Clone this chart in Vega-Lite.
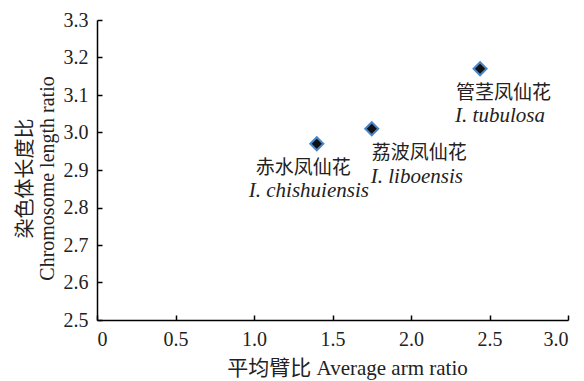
{
  "$schema": "https://vega.github.io/schema/vega-lite/v6.json",
  "width": 471,
  "height": 300,
  "autosize": {"type": "none"},
  "padding": {"left": 97, "top": 20, "right": 16, "bottom": 61},
  "background": "white",
  "config": {
    "view": {"stroke": null},
    "font": "Liberation Serif, Noto Sans CJK SC, serif"
  },
  "data": {
    "values": [
      {"species": "chishuiensis", "cn": "赤水凤仙花", "latin": "I. chishuiensis", "arm": 1.40, "len": 2.97},
      {"species": "liboensis", "cn": "荔波凤仙花", "latin": "I. liboensis", "arm": 1.75, "len": 3.01},
      {"species": "tubulosa", "cn": "管茎凤仙花", "latin": "I. tubulosa", "arm": 2.44, "len": 3.17}
    ]
  },
  "encoding": {
    "x": {
      "field": "arm", "type": "quantitative",
      "scale": {"domain": [0, 3], "nice": false, "zero": false},
      "axis": {
        "title": "平均臂比 Average arm ratio",
        "values": [0, 0.5, 1, 1.5, 2, 2.5, 3],
        "labelExpr": "datum.value === 0 ? '0' : format(datum.value, '.1f')",
        "grid": false,
        "domainColor": "#000", "domainWidth": 1.5,
        "tickColor": "#000", "tickWidth": 1.5, "tickSize": -5,
        "labelPadding": 14,
        "labelFont": "Liberation Serif, serif", "labelFontSize": 20, "labelColor": "#222",
        "titleFont": "Liberation Serif, Noto Sans CJK SC, serif", "titleFontSize": 21, "titleFontWeight": "normal", "titleColor": "#222",
        "titleX": 250,
        "titlePadding": 8
      }
    },
    "y": {
      "field": "len", "type": "quantitative",
      "scale": {"domain": [2.5, 3.3], "nice": false, "zero": false},
      "axis": {
        "title": ["染色体长度比", "Chromosome length ratio"],
        "values": [2.5, 2.6, 2.7, 2.8, 2.9, 3.0, 3.1, 3.2, 3.3],
        "format": ".1f",
        "grid": false,
        "domainColor": "#000", "domainWidth": 1.5,
        "tickColor": "#000", "tickWidth": 1.5, "tickSize": -5,
        "labelPadding": 14,
        "labelFont": "Liberation Serif, serif", "labelFontSize": 20, "labelColor": "#222",
        "titleFont": "Liberation Serif, Noto Sans CJK SC, serif", "titleFontSize": 20, "titleFontWeight": "normal", "titleColor": "#222",
        "titleLineHeight": 22,
        "titleY": 158,
        "titlePadding": 6
      }
    }
  },
  "layer": [
    {
      "mark": {"type": "point", "shape": "diamond", "size": 170, "filled": true, "fill": "#111", "stroke": "#4a86c8", "strokeWidth": 2, "opacity": 1}
    },
    {
      "transform": [{"filter": "datum.species === 'chishuiensis'"}],
      "layer": [
        {"mark": {"type": "text", "align": "left", "baseline": "middle", "dx": -61, "dy": 24, "fontSize": 19, "font": "Noto Sans CJK SC", "color": "#222"}, "encoding": {"text": {"field": "cn"}}},
        {"mark": {"type": "text", "align": "left", "baseline": "middle", "dx": -68, "dy": 47, "fontSize": 21, "fontStyle": "italic", "font": "Liberation Serif, serif", "color": "#222"}, "encoding": {"text": {"field": "latin"}}}
      ]
    },
    {
      "transform": [{"filter": "datum.species === 'liboensis'"}],
      "layer": [
        {"mark": {"type": "text", "align": "left", "baseline": "middle", "dx": 0, "dy": 24, "fontSize": 19, "font": "Noto Sans CJK SC", "color": "#222"}, "encoding": {"text": {"field": "cn"}}},
        {"mark": {"type": "text", "align": "left", "baseline": "middle", "dx": -1, "dy": 48, "fontSize": 21, "fontStyle": "italic", "font": "Liberation Serif, serif", "color": "#222"}, "encoding": {"text": {"field": "latin"}}}
      ]
    },
    {
      "transform": [{"filter": "datum.species === 'tubulosa'"}],
      "layer": [
        {"mark": {"type": "text", "align": "left", "baseline": "middle", "dx": -24, "dy": 24, "fontSize": 19, "font": "Noto Sans CJK SC", "color": "#222"}, "encoding": {"text": {"field": "cn"}}},
        {"mark": {"type": "text", "align": "left", "baseline": "middle", "dx": -25, "dy": 47, "fontSize": 21, "fontStyle": "italic", "font": "Liberation Serif, serif", "color": "#222"}, "encoding": {"text": {"field": "latin"}}}
      ]
    }
  ]
}
